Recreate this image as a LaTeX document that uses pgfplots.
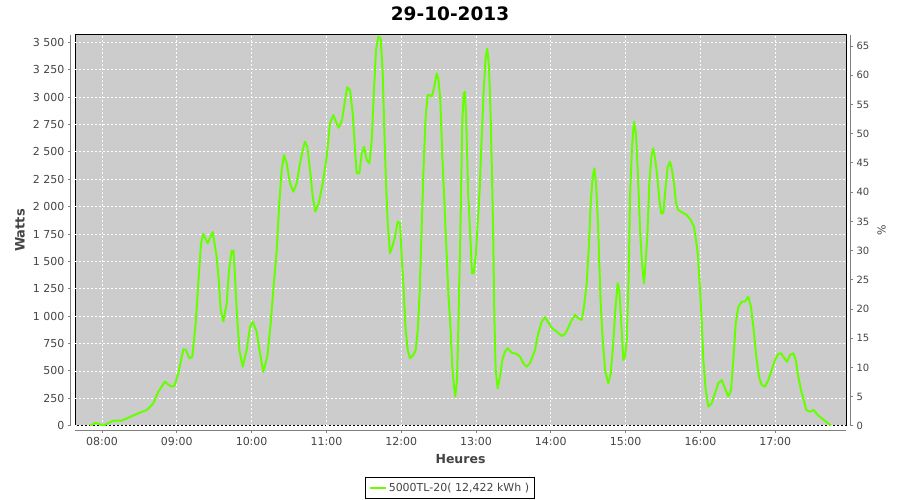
\documentclass[border=0pt]{standalone}
\usepackage{pgfplots}
\pgfplotsset{compat=1.18}
\usepackage{pgfplotstable}
\usepackage{fontspec}
\setmainfont{DejaVu Sans}
\definecolor{bgc}{RGB}{204,204,204}
\definecolor{linec}{RGB}{102,255,0}
\definecolor{labc}{RGB}{68,68,68}
\definecolor{axc}{RGB}{128,128,128}
\pgfplotstableread{
h w
7.840 0
7.916 27
8.017 0
8.151 46
8.263 46
8.352 73
8.485 113
8.598 143
8.686 204
8.753 310
8.842 402
8.909 362
8.967 362
9.020 478
9.087 697
9.123 691
9.167 615
9.207 630
9.253 935
9.287 1300
9.324 1665
9.354 1750
9.413 1665
9.480 1768
9.533 1543
9.564 1300
9.587 1056
9.622 950
9.667 1117
9.698 1421
9.734 1598
9.758 1598
9.778 1360
9.801 1056
9.836 691
9.881 539
9.934 691
9.979 904
10.015 950
10.068 858
10.112 661
10.156 493
10.210 630
10.255 935
10.290 1239
10.336 1604
10.370 2030
10.402 2334
10.433 2471
10.469 2395
10.513 2213
10.558 2136
10.603 2213
10.647 2395
10.683 2517
10.714 2593
10.745 2547
10.781 2334
10.817 2091
10.852 1954
10.897 2030
10.951 2213
11.004 2456
11.048 2761
11.092 2836
11.128 2775
11.164 2720
11.209 2791
11.249 2973
11.279 3089
11.316 3064
11.352 2852
11.386 2487
11.405 2304
11.440 2304
11.472 2487
11.503 2547
11.539 2426
11.574 2395
11.606 2608
11.636 3064
11.663 3430
11.694 3551
11.726 3536
11.753 3217
11.774 2699
11.797 2213
11.820 1848
11.850 1574
11.881 1634
11.917 1725
11.953 1862
11.984 1848
12.007 1543
12.033 1239
12.060 874
12.087 691
12.118 615
12.162 645
12.194 691
12.221 874
12.247 1209
12.274 1817
12.301 2395
12.327 2821
12.354 3019
12.381 3019
12.408 3004
12.443 3095
12.475 3217
12.496 3171
12.523 2973
12.550 2456
12.576 2060
12.603 1634
12.630 1209
12.656 935
12.683 539
12.706 356
12.723 265
12.746 417
12.763 874
12.790 1725
12.817 2791
12.836 3034
12.853 3049
12.870 2761
12.897 2091
12.924 1725
12.946 1391
12.969 1391
12.996 1543
13.023 1848
13.049 2152
13.076 2638
13.103 3064
13.130 3369
13.151 3440
13.174 3277
13.197 2791
13.214 2273
13.231 1695
13.245 995
13.263 508
13.290 341
13.321 447
13.352 600
13.388 676
13.424 707
13.477 667
13.544 655
13.588 630
13.632 570
13.678 539
13.722 570
13.789 691
13.833 844
13.878 950
13.922 990
13.945 965
14.012 895
14.079 858
14.146 819
14.190 837
14.234 895
14.279 965
14.324 1011
14.368 980
14.413 965
14.444 1086
14.480 1300
14.511 1665
14.533 2030
14.560 2273
14.582 2350
14.604 2213
14.631 1848
14.648 1483
14.667 1117
14.694 782
14.725 508
14.769 387
14.801 478
14.835 752
14.862 1056
14.894 1300
14.916 1239
14.942 935
14.969 600
14.992 630
15.015 782
15.041 1360
15.059 2091
15.086 2547
15.112 2775
15.139 2669
15.166 2273
15.193 1787
15.219 1483
15.246 1300
15.263 1452
15.290 1725
15.317 2213
15.344 2456
15.370 2532
15.397 2426
15.424 2273
15.451 2060
15.477 1939
15.504 1939
15.531 2152
15.563 2364
15.594 2410
15.620 2334
15.647 2213
15.674 2030
15.704 1969
15.763 1945
15.817 1924
15.870 1878
15.914 1817
15.941 1695
15.964 1574
15.990 1300
16.017 965
16.039 600
16.071 326
16.106 174
16.151 204
16.195 296
16.239 387
16.285 417
16.329 341
16.373 265
16.409 326
16.440 600
16.472 935
16.507 1086
16.552 1132
16.596 1132
16.640 1178
16.676 1086
16.712 874
16.747 630
16.783 447
16.819 372
16.864 356
16.908 417
16.953 508
16.997 600
17.041 655
17.078 661
17.122 615
17.158 584
17.198 645
17.242 661
17.274 600
17.309 447
17.345 326
17.381 235
17.416 143
17.465 128
17.515 143
17.568 98
17.622 68
17.689 31
17.746 0
}\powerdata
\begin{document}
\begin{tikzpicture}
\path[use as bounding box] (0,0) rectangle (900bp,500bp);
\begin{axis}[
  scale only axis,
  width=771bp, height=391bp,
  at={(75bp,74bp)}, anchor=south west,
  xmin=7.639, xmax=17.9465,
  ymin=-3, ymax=3567,
  axis x line*=bottom, axis y line*=left,
  axis x line shift=4.5bp, axis y line shift=4bp,
  axis line style={axc, line width=1bp},
  axis background/.style={fill=bgc, draw=black, line width=1bp},
  xtick={8,9,10,11,12,13,14,15,16,17},
  xticklabels={08:00,09:00,10:00,11:00,12:00,13:00,14:00,15:00,16:00,17:00},
  ytick={0,250,500,750,1000,1250,1500,1750,2000,2250,2500,2750,3000,3250,3500},
  yticklabels={0,250,500,750,1 000,1 250,1 500,1 750,2 000,2 250,2 500,2 750,3 000,3 250,3 500},
  tick align=outside,
  major tick length=3bp,
  tick style={axc, line width=1bp},
  ticklabel style={font=\fontsize{11bp}{13bp}\selectfont, text=labc},
  grid=major,
  major grid style={white, line width=0.8bp, dash pattern=on 2bp off 2bp},
  title={29-10-2013},
  title style={at={(0.4864,1.038)}, anchor=center, font=\bfseries\fontsize{18.5bp}{22bp}\selectfont, text=black},
  xlabel={Heures},
  ylabel={Watts},
  every axis x label/.style={at={(0.5,-0.0857)}, anchor=center, font=\bfseries\fontsize{12.5bp}{15bp}\selectfont, text=labc},
  every axis y label/.style={at={(-0.0713,0.5)}, anchor=center, rotate=90, font=\bfseries\fontsize{13bp}{15bp}\selectfont, text=labc},
  legend style={at={(0.486,-0.158)}, anchor=center, draw=black, line width=1bp, fill=white,
    font=\fontsize{11bp}{13bp}\selectfont, text=labc, inner xsep=3bp, inner ysep=3.5bp},
  legend image code/.code={\draw[#1, line width=2.5bp] (0bp,0bp) -- (16bp,0bp);},
]
\addplot[linec, line width=2bp, line join=round] table[x=h, y=w] {\powerdata};
\addlegendentry{5000TL-20( 12,422 kWh )}
\end{axis}
\begin{axis}[
  scale only axis,
  width=771bp, height=391bp,
  at={(75bp,74bp)}, anchor=south west,
  xmin=7.639, xmax=17.9465,
  ymin=0, ymax=66.9,
  axis x line=none, axis y line*=right,
  axis y line shift=4bp,
  axis line style={axc, line width=1bp},
  ytick={0,5,10,15,20,25,30,35,40,45,50,55,60,65},
  yticklabels={0,5,10,15,20,25,30,35,40,45,50,55,60,65},
  tick align=outside,
  major tick length=3bp,
  tick style={axc, line width=1bp},
  ticklabel style={font=\fontsize{10bp}{12bp}\selectfont, text=labc},
  ylabel={\%},
  every axis y label/.style={at={(1.0463,0.5)}, anchor=center, rotate=90, font=\fontsize{11bp}{13bp}\selectfont, text=labc},
]
\end{axis}
\end{tikzpicture}
\end{document}
